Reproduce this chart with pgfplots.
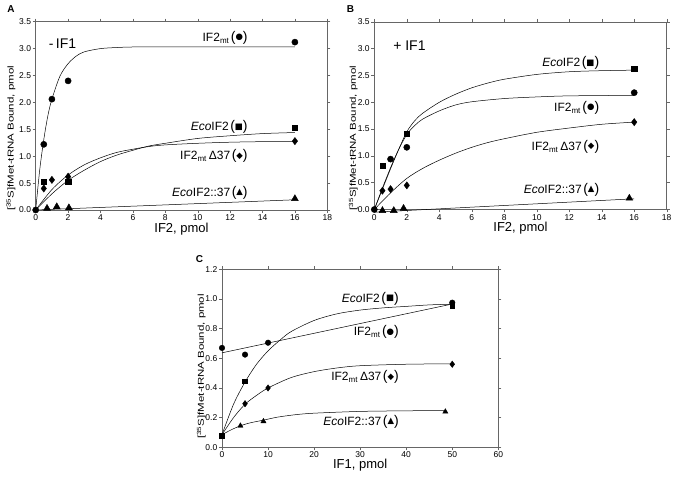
\documentclass[border=0pt]{standalone}
\usepackage{fontspec}
\setmainfont{Liberation Sans}
\newfontfamily\sym{DejaVu Sans}
\usepackage{pgfplots}
\pgfplotsset{compat=1.18}

% label with big brackets round the marker glyph
\newcommand{\lab}[2]{#1\hspace{1.5pt}{\fontsize{14}{14}\selectfont(}\raisebox{1.6pt}{\sym\fontsize{8.5}{8.5}\selectfont #2}{\fontsize{14}{14}\selectfont)}}
\newcommand{\mt}{IF2\textsubscript{mt}}
\newcommand{\ylab}{\scalebox{1.35}[1]{[\textsuperscript{35}S]fMet-tRNA Bound, pmol}}

\pgfplotsset{
  panel/.style={
    scale only axis,
    axis line style={black!60, line width=0.5pt},
    tick style={black!60, line width=0.4pt},
    tick align=outside,
    major tick length=3pt,
    tick label style={font=\fontsize{8.5}{9}\selectfont},
    /pgf/number format/assume math mode=true,
    yticklabel style={/pgf/number format/fixed, /pgf/number format/fixed zerofill, /pgf/number format/precision=1, inner sep=1.5pt},
    xticklabel style={inner sep=1.5pt},
    xlabel style={font=\fontsize{13}{14}\selectfont, anchor=center},
    ylabel style={font=\fontsize{8.5}{9}\selectfont, anchor=center},
    clip=false,
  },
  fit/.style={no marks, smooth, black, line width=0.5pt},
  pts/.style={only marks, black, mark options={fill=black, draw=black}},
}
\tikzset{lbl/.style={font=\fontsize{12}{13}\selectfont, anchor=east}}

\begin{document}
\begin{tikzpicture}
\path[use as bounding box] (0,0) rectangle (676pt,479pt);

% ---------------- A : - IF1 ----------------
\begin{axis}[panel, at={(35.7pt,269pt)}, anchor=south west,
  width=291.6pt, height=188.3pt,
  xmin=0, xmax=18, ymin=0, ymax=3.5,
  xtick={0,2,...,18}, ytick={0,0.5,1,1.5,2,2.5,3,3.5},
  xlabel={IF2, pmol}, ylabel={\ylab},
  xlabel style={at={(axis description cs:0.5,-0.1)}},
  ylabel style={at={(axis description cs:-0.085,0.38)}},
]
\addplot[fit] coordinates {(0,0) (0.25,0.75) (0.5,1.31) (0.75,1.75) (1,2.06) (1.5,2.49) (2,2.72) (2.5,2.86) (3,2.94) (4,3.00) (5,3.02) (6,3.03) (8,3.03) (12,3.03) (16,3.03)};
\addplot[fit] coordinates {(0,0) (1,0.30) (2,0.55) (3,0.74) (4,0.90) (5,1.02) (6,1.11) (7,1.19) (8,1.24) (10,1.33) (12,1.38) (14,1.42) (16,1.44)};
\addplot[fit] coordinates {(0,0) (1,0.38) (2,0.65) (3,0.84) (4,0.97) (5,1.07) (6,1.13) (7,1.18) (8,1.21) (10,1.24) (12,1.26) (14,1.27) (16,1.27)};
\addplot[fit] coordinates {(0,0) (16,0.19)};
\addplot[pts, mark=*, mark size=3.1pt] coordinates {(0,0) (0.5,1.22) (1,2.06) (2,2.40) (16,3.12)};
\addplot[pts, mark=square*, mark size=2.6pt] coordinates {(0.5,0.52) (2,0.52) (16,1.53)};
\addplot[pts, mark=diamond*, mark size=3.6pt] coordinates {(0.5,0.40) (1,0.56) (2,0.62) (16,1.28)};
\addplot[pts, mark=triangle*, mark size=4pt] coordinates {(0.7,0.03) (1.3,0.06) (2.05,0.04) (16,0.21)};
\node[font=\fontsize{14}{15}\selectfont, anchor=west] at (axis cs:0.6,3.10) {-\,IF1};
\node[lbl] at (axis cs:13.3,3.20) {\lab{\mt}{●}};
\node[lbl] at (axis cs:13.3,1.54) {\lab{\textit{Eco}IF2}{■}};
\node[lbl] at (axis cs:13.3,1.00) {\lab{\mt\,Δ37}{◆}};
\node[lbl] at (axis cs:13.3,0.32) {\lab{\textit{Eco}IF2::37}{▲}};
\end{axis}

% ---------------- B : + IF1 ----------------
\begin{axis}[panel, at={(374.3pt,269.5pt)}, anchor=south west,
  width=292.4pt, height=187.6pt,
  xmin=0, xmax=18, ymin=0, ymax=3.5,
  xtick={0,2,...,18}, ytick={0,0.5,1,1.5,2,2.5,3,3.5},
  xlabel={IF2, pmol}, ylabel={\ylab},
  xlabel style={at={(axis description cs:0.5,-0.1)}},
  ylabel style={at={(axis description cs:-0.072,0.38)}},
]
\addplot[fit] coordinates {(0,0) (0.5,0.38) (1,0.76) (1.5,1.12) (2,1.45) (2.5,1.66) (3,1.80) (4,2.00) (5,2.15) (6,2.27) (7,2.36) (8,2.43) (10,2.52) (12,2.57) (14,2.59) (16,2.60)};
\addplot[fit] coordinates {(0,0) (0.5,0.40) (1,0.78) (1.5,1.12) (2,1.40) (2.5,1.57) (3,1.69) (4,1.84) (5,1.95) (6,2.01) (8,2.07) (10,2.10) (12,2.12) (16,2.13)};
\addplot[fit] coordinates {(0,0) (1,0.31) (2,0.58) (3,0.77) (4,0.92) (5,1.05) (6,1.16) (7,1.25) (8,1.32) (10,1.44) (12,1.52) (14,1.59) (16,1.63)};
\addplot[fit] coordinates {(0,-0.05) (16,0.20)};
\addplot[pts, mark=*, mark size=3.1pt] coordinates {(0,0) (1,0.94) (2,1.16) (16,2.18)};
\addplot[pts, mark=square*, mark size=2.6pt] coordinates {(0.5,0.82) (2,1.41) (16,2.62)};
\addplot[pts, mark=diamond*, mark size=3.6pt] coordinates {(0.5,0.35) (1,0.38) (2,0.45) (16,1.63)};
\addplot[pts, mark=triangle*, mark size=4pt] coordinates {(0.5,-0.02) (1.2,-0.02) (1.8,0.02) (15.7,0.21)};
\node[font=\fontsize{14}{15}\selectfont, anchor=west] at (axis cs:0.95,3.06) {+ IF1};
\node[lbl] at (axis cs:14.06,2.73) {\lab{\textit{Eco}IF2}{■}};
\node[lbl] at (axis cs:14.06,1.90) {\lab{\mt}{●}};
\node[lbl] at (axis cs:14.06,1.17) {\lab{\mt\,Δ37}{◆}};
\node[lbl] at (axis cs:14.06,0.37) {\lab{\textit{Eco}IF2::37}{▲}};
\end{axis}

% ---------------- C : IF1 titration ----------------
\begin{axis}[panel, at={(222pt,31.7pt)}, anchor=south west,
  width=276.3pt, height=178pt,
  xmin=0, xmax=60, ymin=0, ymax=1.2,
  xtick={0,10,...,60}, ytick={0,0.2,0.4,0.6,0.8,1.0,1.2},
  xlabel={IF1, pmol}, ylabel={\ylab},
  xlabel style={at={(axis description cs:0.5,-0.1)}},
  ylabel style={at={(axis description cs:-0.075,0.454)}},
]
\addplot[fit] coordinates {(0,0.085) (2.5,0.29) (5,0.44) (7.5,0.56) (10,0.65) (12.5,0.72) (15,0.78) (20,0.855) (25,0.90) (30,0.925) (35,0.94) (40,0.95) (45,0.96) (50,0.965)};
\addplot[fit] coordinates {(0,0.637) (50,0.966)};
\addplot[fit] coordinates {(0,0.085) (2.5,0.20) (5,0.29) (7.5,0.35) (10,0.40) (15,0.47) (20,0.51) (25,0.535) (30,0.55) (40,0.56) (50,0.563)};
\addplot[fit] coordinates {(0,0.085) (2,0.118) (4,0.145) (6,0.164) (9,0.183) (12,0.203) (16,0.220) (20,0.230) (30,0.242) (40,0.246) (48.5,0.248)};
\addplot[pts, mark=*, mark size=2.8pt] coordinates {(0,0.67) (5,0.625) (10,0.705) (50,0.975)};
\addplot[pts, mark=square*, mark size=2.4pt] coordinates {(0,0.08) (5,0.445) (50,0.955)};
\addplot[pts, mark=diamond*, mark size=3.2pt] coordinates {(5,0.294) (10,0.40) (50,0.56)};
\addplot[pts, mark=triangle*, mark size=3pt] coordinates {(4,0.145) (9,0.175) (48.5,0.24)};
\node[lbl] at (axis cs:39.15,1.00) {\lab{\textit{Eco}IF2}{■}};
\node[lbl] at (axis cs:39.15,0.777) {\lab{\mt}{●}};
\node[lbl] at (axis cs:39.15,0.472) {\lab{\mt\,Δ37}{◆}};
\node[lbl] at (axis cs:39.15,0.173) {\lab{\textit{Eco}IF2::37}{▲}};
\end{axis}

\node[font=\bfseries\fontsize{10}{10}\selectfont] at (11pt,470pt) {A};
\node[font=\bfseries\fontsize{10}{10}\selectfont] at (350.5pt,469.5pt) {B};
\node[font=\bfseries\fontsize{10}{10}\selectfont] at (199.5pt,219.5pt) {C};
\end{tikzpicture}
\end{document}
